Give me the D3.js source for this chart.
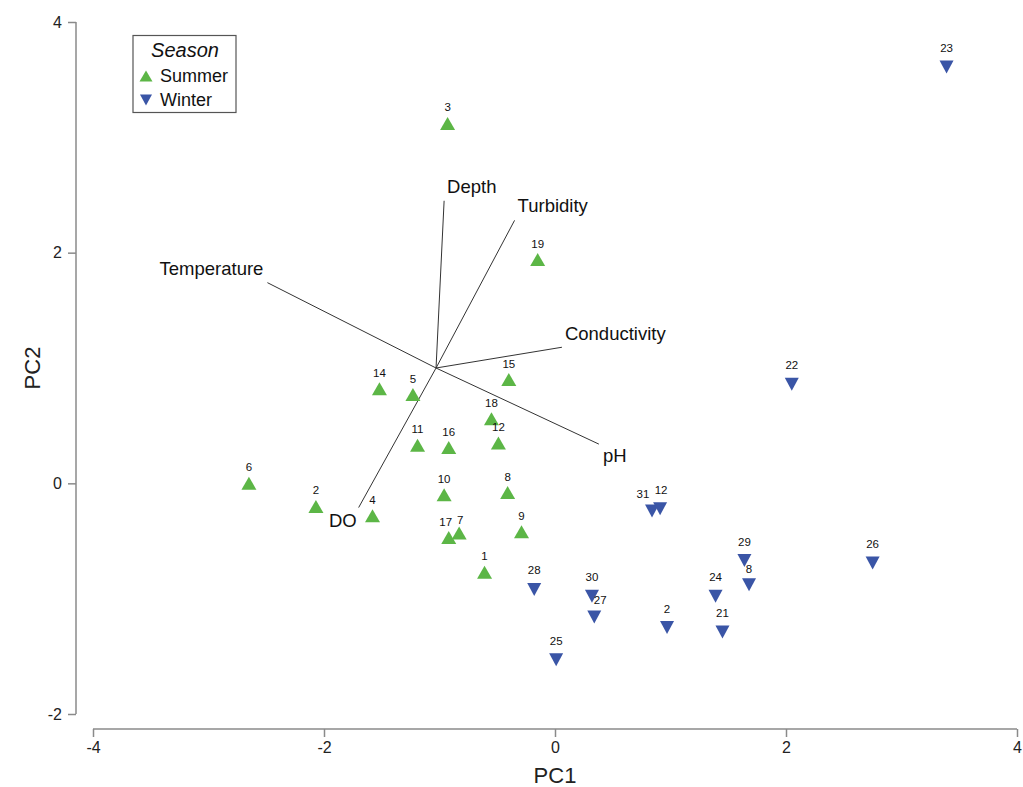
<!DOCTYPE html>
<html>
<head>
<meta charset="utf-8">
<script src="https://cdn.jsdelivr.net/npm/d3@7/dist/d3.min.js"></script>
<style>
  html, body { margin: 0; padding: 0; background: #fff; }
  svg { display: block; font-family: "Liberation Sans", Arial, sans-serif; }
</style>
</head>
<body>
<svg id="chart" width="1023" height="787"></svg>
<script>
// ---- Data ----
const summerLabels = ["3","19","15","14","5","18","12","11","16","6","2","4","10","8","17","7","9","1"];
const summerPC1    = [-0.93,-0.15,-0.40,-1.52,-1.23,-0.55,-0.49,-1.19,-0.92,-2.65,-2.07,-1.58,-0.96,-0.41,-0.92,-0.83,-0.29,-0.61];
const summerPC2    = [3.12, 1.94, 0.90, 0.82, 0.77, 0.56, 0.35, 0.33, 0.31, 0.00,-0.20,-0.28,-0.10,-0.08,-0.47,-0.43,-0.42,-0.77];

const winterLabels = ["23","22","26","31","12","29","8","24","21","2","30","27","28","25"];
const winterPC1    = [3.39, 2.05, 2.75, 0.84, 0.91, 1.64, 1.68, 1.39, 1.45, 0.97, 0.32, 0.34,-0.18, 0.01];
const winterPC2    = [3.61, 0.86,-0.69,-0.24,-0.22,-0.67,-0.88,-0.98,-1.29,-1.25,-0.98,-1.16,-0.92,-1.53];

const vectorNames = ["Depth","Turbidity","Temperature","Conductivity","pH","DO"];
const vectorPC1   = [-0.96,-0.35,-2.49, 0.06, 0.38,-1.70];
const vectorPC2   = [ 2.45, 2.28, 1.74, 1.18, 0.34,-0.21];
const vectorOrigin = [-1.03, 1.00];

const xTicks = [-4,-2,0,2,4];
const yTicks = [-2,0,2,4];
const seasons = ["Summer","Winter"];

// ---- Styles ----
const colSummer = "#5cb646";
const colWinter = "#3a55a6";

const svg = d3.select("#chart");
const x = d3.scaleLinear().domain([-4,4]).range([93,1017]);
const y = d3.scaleLinear().domain([-2,4]).range([714,22]);

const axisColor = "#8a8a8a";
const fmt = d => String(d);

// Y axis
const yAxisG = svg.append("g").attr("transform","translate(76,0)")
  .call(d3.axisLeft(y).tickValues(yTicks).tickSize(8).tickPadding(6).tickFormat(fmt));
yAxisG.select(".domain").attr("stroke",axisColor).attr("stroke-width",1.5)
  .attr("d", `M0,${y(4)}V${y(-2)}`);
yAxisG.selectAll(".tick line").attr("stroke",axisColor).attr("stroke-width",1.5);
yAxisG.selectAll(".tick text").attr("font-size",16).attr("fill","#222")
  .attr("font-family","Liberation Sans, Arial, sans-serif");

// X axis
const xAxisG = svg.append("g").attr("transform","translate(0,729)")
  .call(d3.axisBottom(x).tickValues(xTicks).tickSize(8).tickPadding(5).tickFormat(fmt));
xAxisG.select(".domain").attr("stroke",axisColor).attr("stroke-width",1.5)
  .attr("d", `M${x(-4)},0H${x(4)}`);
xAxisG.selectAll(".tick line").attr("stroke",axisColor).attr("stroke-width",1.5);
xAxisG.selectAll(".tick text").attr("font-size",16).attr("fill","#222")
  .attr("font-family","Liberation Sans, Arial, sans-serif");

// Axis titles
svg.append("text").attr("x",555).attr("y",783).attr("text-anchor","middle")
  .attr("font-size",22).attr("fill","#222").text("PC1");
svg.append("text").attr("transform","translate(40,368) rotate(-90)").attr("text-anchor","middle")
  .attr("font-size",22).attr("fill","#222").text("PC2");

// Biplot vectors
const vectors = vectorNames.map((n,i)=>({name:n, px:vectorPC1[i], py:vectorPC2[i]}));
svg.append("g").selectAll("line").data(vectors).join("line")
  .attr("x1", x(vectorOrigin[0])).attr("y1", y(vectorOrigin[1]))
  .attr("x2", d=>x(d.px)).attr("y2", d=>y(d.py))
  .attr("stroke","#333").attr("stroke-width",1);

// label placement relative to vector end (offsets in px)
const vecLabelPos = {
  "Depth":[3,-8,"start"], "Turbidity":[3,-8,"start"], "Temperature":[-4,-8,"end"],
  "Conductivity":[3,-7,"start"], "pH":[4,18,"start"], "DO":[-2,19,"end"]
};
svg.append("g").selectAll("text").data(vectors).join("text")
  .attr("x", d=>x(d.px)+vecLabelPos[d.name][0])
  .attr("y", d=>y(d.py)+vecLabelPos[d.name][1])
  .attr("text-anchor", d=>vecLabelPos[d.name][2])
  .attr("font-size",18.5).attr("fill","#111").text(d=>d.name);

// Points
const up = "M-7.5,6.5L7.5,6.5L0,-6.5Z";
const down = "M-7,-6.5L7,-6.5L0,6.5Z";
const summer = summerLabels.map((l,i)=>({label:l, px:summerPC1[i], py:summerPC2[i]}));
const winter = winterLabels.map((l,i)=>({label:l, px:winterPC1[i], py:winterPC2[i]}));

// small label nudges to avoid overlaps (as in the reference)
const nudgeS = {"17":[-3,0],"7":[1,3]};
const nudgeW = {"31":[-9,2],"12":[1,0],"27":[6,2],"8":[0,3]};

const gS = svg.append("g");
gS.selectAll("path").data(summer).join("path")
  .attr("d", up).attr("fill", colSummer)
  .attr("transform", d=>`translate(${x(d.px)},${y(d.py)})`);
gS.selectAll("text").data(summer).join("text")
  .attr("x", d=>x(d.px)+((nudgeS[d.label]||[0,0])[0]))
  .attr("y", d=>y(d.py)-12+((nudgeS[d.label]||[0,0])[1]))
  .attr("text-anchor","middle").attr("font-size",11.5).attr("fill","#111").text(d=>d.label);

const gW = svg.append("g");
gW.selectAll("path").data(winter).join("path")
  .attr("d", down).attr("fill", colWinter)
  .attr("transform", d=>`translate(${x(d.px)},${y(d.py)})`);
gW.selectAll("text").data(winter).join("text")
  .attr("x", d=>x(d.px)+((nudgeW[d.label]||[0,0])[0]))
  .attr("y", d=>y(d.py)-15+((nudgeW[d.label]||[0,0])[1]))
  .attr("text-anchor","middle").attr("font-size",11.5).attr("fill","#111").text(d=>d.label);

// Legend
const lg = svg.append("g");
lg.append("rect").attr("x",133).attr("y",35.5).attr("width",103).attr("height",77)
  .attr("fill","#fff").attr("stroke","#555").attr("stroke-width",1.2);
lg.append("text").attr("x",185).attr("y",57).attr("text-anchor","middle")
  .attr("font-size",20).attr("font-style","italic").attr("fill","#111").text("Season");
lg.selectAll("path.leg").data(seasons).join("path").attr("class","leg")
  .attr("d",(d,i)=> i===0 ? "M-6.5,5.5L6.5,5.5L0,-5.5Z" : "M-6,-5.5L6,-5.5L0,5.5Z")
  .attr("fill",(d,i)=> i===0 ? colSummer : colWinter)
  .attr("transform",(d,i)=>`translate(146,${76+i*24})`);
lg.selectAll("text.leg").data(seasons).join("text").attr("class","leg")
  .attr("x",160).attr("y",(d,i)=>82+i*24)
  .attr("font-size",18).attr("fill","#111").text(d=>d);
</script>
</body>
</html>
